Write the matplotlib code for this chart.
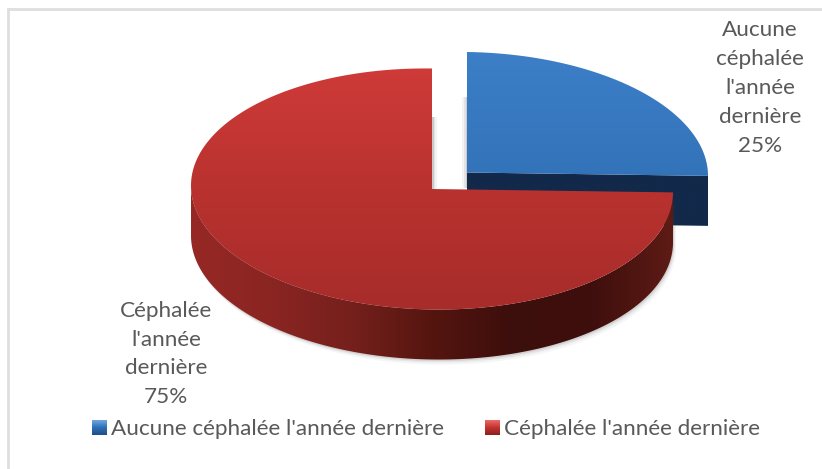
import numpy as np
import matplotlib
matplotlib.use("Agg")
import matplotlib.pyplot as plt
from matplotlib.patches import Polygon, Patch, Rectangle
from matplotlib.colors import LinearSegmentedColormap as LSC

categories = ["Aucune céphalée l'année dernière", "Céphalée l'année dernière"]
values = [25, 75]
label_lines = ["Aucune\ncéphalée\nl'année\ndernière\n25%", "Céphalée\nl'année\ndernière\n75%"]

TXT = "#595959"
plt.rcParams['font.family'] = ['Lato', 'DejaVu Sans']
W, H = 822, 469
fig = plt.figure(figsize=(W/100, H/100), dpi=100, facecolor="white")
ax = fig.add_axes([0, 0, 1, 1])

wedges, _ = ax.pie(values, startangle=90, counterclock=False, radius=1, center=(0, 0))
ax.set_aspect('auto')
ax.set_xlim(0, W)
ax.set_ylim(H, 0)
ax.axis('off')

RX, RY, DEPTH = 241, 120.5, 50
centres = [(467, 172.5), (432, 189)]
SKEW = 0.014
top_cmaps = [LSC.from_list('bt', ['#3d80c8', '#3373ba', '#2b659f']),
             LSC.from_list('rt', ['#cf3b39', '#b9322f', '#a62c2a'])]
side_cmaps = [LSC.from_list('bs', ['#12294a', '#12294a']),
              LSC.from_list('rs', ['#962825', '#8a2522', '#75201c', '#55150f', '#3c0e0c', '#3f0f0d', '#5e1b15'])]
fr = np.array(values) / sum(values)
ends = 90 - 360 * np.cumsum(fr)
starts = ends + 360 * fr


def fill(path_patch, cmap, extent, horizontal=False, z=2):
    ax.add_patch(path_patch)
    path_patch.set(facecolor='none', edgecolor='none', zorder=z)
    g = np.linspace(0, 1, 256)
    g = g[None, :] if horizontal else g[:, None]
    im = ax.imshow(g, cmap=cmap, extent=extent, aspect='auto', zorder=z, interpolation='bilinear')
    im.set_clip_path(path_patch)
    ax.set_xlim(0, W)
    ax.set_ylim(H, 0)


for i in range(len(values)):
    cx, cy = centres[i]
    to_px = lambda x, y: (cx + RX * x, cy - RY * y + SKEW * RX * x)
    th = np.radians(np.linspace(starts[i], ends[i], 400))
    ux, uy = np.cos(th), np.sin(th)
    px, py = to_px(ux, uy)
    top_pts = np.column_stack([np.r_[cx, px], np.r_[cy, py]])
    lower = uy <= 0.001
    for k, a in zip((5, 3, 1.5), (0.05, 0.08, 0.12)):
        pts = np.column_stack([np.r_[px[lower], px[lower][::-1]] + k * 0.6,
                               np.r_[py[lower] + DEPTH + k, py[lower][::-1]]])
        ax.add_patch(Polygon(pts, closed=True, fc='#404040', ec='none', alpha=a, zorder=1 + i * 2))
    if i == 0:
        ex = to_px(1, 0)
        side = np.array([(cx, cy), ex, (ex[0], ex[1] + DEPTH), (cx, cy + DEPTH)])
        fill(Polygon(side, closed=True), side_cmaps[0], (cx, ex[0] + 2, cy + DEPTH + 12, cy), z=2)
        for k, a in zip((5, 3, 1.5), (0.06, 0.10, 0.16)):
            ax.add_patch(Rectangle((cx - k, cy - 75), k, 91, fc='#505050', ec='none', alpha=a, zorder=1))
    else:
        px2, py2 = px[lower], py[lower]
        side = np.column_stack([np.r_[px2, px2[::-1]], np.r_[py2 + DEPTH, py2[::-1]]])
        fill(Polygon(side, closed=True), side_cmaps[1], (cx - RX, cx + RX, cy + RY + DEPTH + 8, cy - 8), horizontal=True, z=4)
        for k, a in zip((5, 3, 1.5), (0.06, 0.10, 0.16)):
            ax.add_patch(Rectangle((cx, cy - 72), k, 72, fc='#505050', ec='none', alpha=a, zorder=3.5))
    fill(Polygon(top_pts, closed=True), top_cmaps[i], (cx - RX, cx + RX, cy + RY + 6, cy - RY - 6), z=3 if i == 0 else 5)
    wedges[i].set_visible(False)

# chart frame: only the top and left edges are visible
ax.plot([8, 8, W], [H, 9.5, 9.5], color='#dedede', lw=2.0, zorder=0, solid_joinstyle='miter')

# data labels
ax.text(760, 88, label_lines[0], ha='center', va='center', color=TXT, fontsize=16.2, linespacing=1.55, zorder=8)
ax.text(166, 354, label_lines[1], ha='center', va='center', color=TXT, fontsize=16.2, linespacing=1.55, zorder=8)

# legend
handles = [Patch(fc='#2f6fb5', ec='none'), Patch(fc='#c43230', ec='none')]
leg = ax.legend(handles, categories, loc='center', bbox_to_anchor=(426 / W, 1 - 429 / H), ncol=2, frameon=False,
                fontsize=16.2, labelcolor=TXT, handlelength=0.64, handleheight=0.64, handletextpad=0.22,
                columnspacing=1.78, borderpad=0, borderaxespad=0)
fig.canvas.draw()
swatch_maps = [LSC.from_list('bl', ['#6fa6e0', '#2f6fb5', '#1f4f8a']),
               LSC.from_list('rl', ['#e86a66', '#c43230', '#8a2220'])]
for patch, cmap in zip(leg.get_patches(), swatch_maps):
    b = patch.get_window_extent()
    g = np.linspace(0, 1, 32)[:, None]
    ax.imshow(g, cmap=cmap, extent=(b.x0, b.x1, H - b.y0, H - b.y1), aspect='auto', zorder=9)
ax.set_xlim(0, W)
ax.set_ylim(H, 0)

fig.savefig("out.png", dpi=100)
